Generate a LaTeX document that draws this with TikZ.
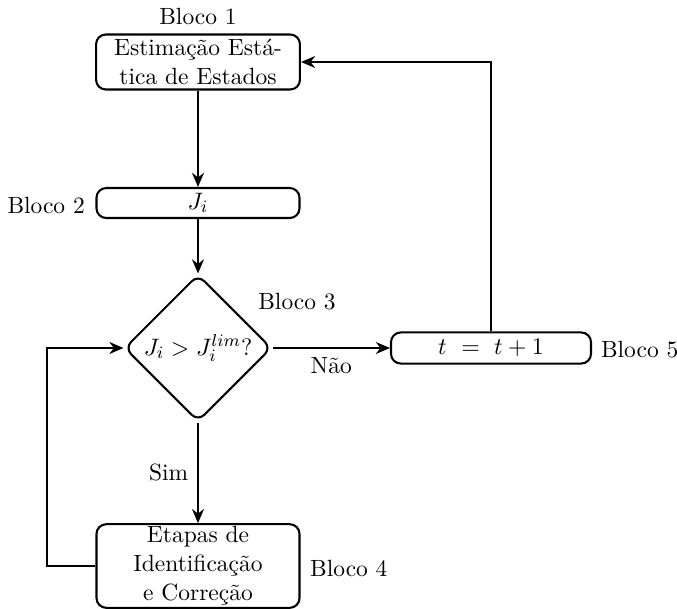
\documentclass[tikz,border=0pt]{standalone}
\usetikzlibrary{shapes.geometric,arrows.meta}
\begin{document}
\begin{tikzpicture}[x=0.46pt,y=-0.46pt, line width=0.95pt,
  every node/.style={font=\fontsize{10.8}{13.4}\selectfont},
  blk/.style={draw,rounded corners=4.5pt,align=center,inner sep=1pt},
  dec/.style={draw,diamond,rounded corners=4pt,inner sep=0pt,minimum width=67.6pt,minimum height=67.6pt,align=center},
  arr/.style={-{Stealth[length=6.5pt,width=5.5pt]}},
  lbl/.style={inner sep=1pt}]
\useasboundingbox (0,0) rectangle (677,608);
\node[blk,minimum width=93.8pt,minimum height=25.3pt] (b1) at (198,62) {Estimação Está-\\tica de Estados};
\node[lbl] (l1) at (198,16) {Bloco 1};
\node[blk,minimum width=93.4pt,minimum height=13.8pt] (b2) at (198,203) {$J_i$};
\node[lbl,anchor=east] (l2) at (88,205) {Bloco 2};
\node[dec] (b3) at (198,348) {$J_i > J_i^{lim}?$};
\node[lbl] (l3) at (297,302) {Bloco 3};
\node[blk,minimum width=92pt,minimum height=14.3pt] (b5) at (491,348) {$t\ =\ t+1$};
\node[lbl,anchor=west,inner sep=0pt] (l5) at (600,350) {Bloco 5};
\node[blk,minimum width=93.4pt,minimum height=37.7pt] (b4) at (198,566) {Etapas de\\Identificação\\e Correção};
\node[lbl,anchor=west] (l4) at (307,568) {Bloco 4};
\coordinate (c1) at (491,62);
\coordinate (c2) at (47,566);
\coordinate (c3) at (47,348);
\draw[arr] (b1.south) -- (b2.north);
\draw[arr] (b2.south) -- (b3.north);
\draw[arr] (b3.east) -- node[below=3pt,lbl] (nao) {Não} (b5.west);
\draw[arr] (b3.south) -- node[left=3pt,lbl] (sim) {Sim} (b4.north);
\draw[arr] (b5.north) -- (c1) -- (b1.east);
\draw[arr] (b4.west) -- (c2) -- (c3) -- (b3.west);
\end{tikzpicture}
\end{document}
